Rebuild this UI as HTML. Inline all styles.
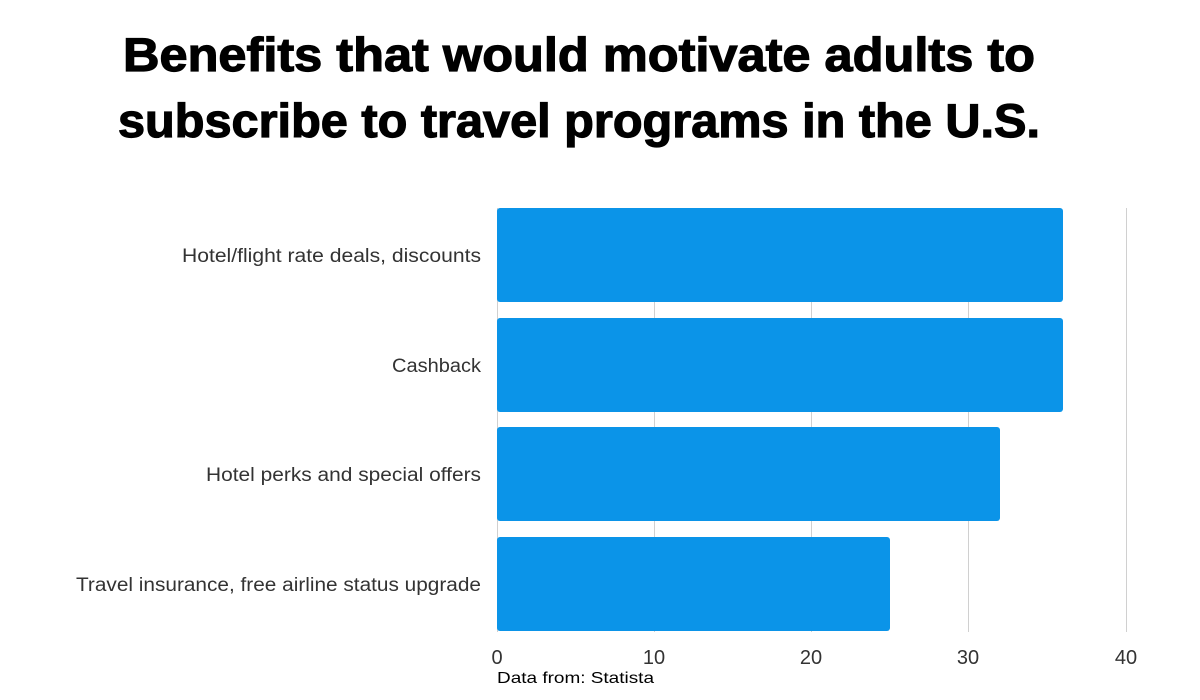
<!DOCTYPE html>
<html><head><meta charset="utf-8"><style>body{margin:0;background:#fff}svg{display:block}</style></head>
<body>
<svg width="1200" height="700" xmlns="http://www.w3.org/2000/svg">
<rect width="1200" height="700" fill="#fff"/>
<g font-family="Liberation Sans, sans-serif" font-weight="bold" font-size="47" fill="#000" text-anchor="middle" stroke="#000" stroke-width="1.2">
<text x="579" y="71" textLength="912" lengthAdjust="spacingAndGlyphs">Benefits that would motivate adults to</text>
<text x="579" y="137" textLength="922" lengthAdjust="spacingAndGlyphs">subscribe to travel programs in the U.S.</text>
</g>
<g stroke="#d0d0d0" stroke-width="1">
<line x1="654.5" y1="208" x2="654.5" y2="632"/>
<line x1="811.5" y1="208" x2="811.5" y2="632"/>
<line x1="968.5" y1="208" x2="968.5" y2="632"/>
<line x1="1126.5" y1="208" x2="1126.5" y2="632"/>
<line x1="497.5" y1="208" x2="497.5" y2="632"/>
</g>
<g fill="#0b94e8">
<rect x="497" y="208" width="566" height="94" rx="3"/>
<rect x="497" y="318" width="566" height="94" rx="3"/>
<rect x="497" y="427" width="503" height="94" rx="3"/>
<rect x="497" y="537" width="393" height="94" rx="3"/>
</g>
<g font-family="Liberation Sans, sans-serif" font-size="19" fill="#333" text-anchor="end">
<text x="481" y="262" textLength="299" lengthAdjust="spacingAndGlyphs">Hotel/flight rate deals, discounts</text>
<text x="481" y="372" textLength="89" lengthAdjust="spacingAndGlyphs">Cashback</text>
<text x="481" y="481" textLength="275" lengthAdjust="spacingAndGlyphs">Hotel perks and special offers</text>
<text x="481" y="591" textLength="405" lengthAdjust="spacingAndGlyphs">Travel insurance, free airline status upgrade</text>
</g>
<g font-family="Liberation Sans, sans-serif" font-size="20" fill="#333" text-anchor="middle">
<text x="497" y="664">0</text>
<text x="654" y="664">10</text>
<text x="811" y="664">20</text>
<text x="968" y="664">30</text>
<text x="1126" y="664">40</text>
</g>
<text x="497" y="683" font-family="Liberation Sans, sans-serif" font-size="16" fill="#000" textLength="157" lengthAdjust="spacingAndGlyphs">Data from: Statista</text>
</svg>
</body></html>
